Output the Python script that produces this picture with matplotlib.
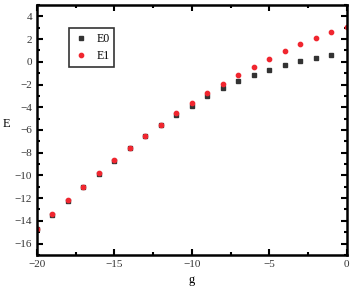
import matplotlib
matplotlib.use("Agg")
import matplotlib.pyplot as plt
from matplotlib.ticker import MultipleLocator

g = [-20, -19, -18, -17, -16, -15, -14, -13, -12, -11, -10, -9, -8, -7, -6, -5, -4, -3, -2, -1]
E0 = [-14.75, -13.45, -12.22, -11.02, -9.85, -8.7, -7.62, -6.53, -5.57, -4.69,
      -3.87, -3.04, -2.33, -1.69, -1.16, -0.69, -0.28, 0.08, 0.34, 0.6]
g1 = [-20, -19, -18, -17, -16, -15, -14, -13, -12, -11, -10, -9, -8, -7, -6, -5, -4, -3, -2, -1, 0]
E1 = [-14.74, -13.44, -12.2, -11.0, -9.83, -8.68, -7.6, -6.51, -5.54, -4.54,
      -3.63, -2.75, -1.92, -1.16, -0.43, 0.28, 0.93, 1.55, 2.1, 2.63, 3.1]

plt.rcParams['font.family'] = ['Liberation Serif', 'DejaVu Serif']

fig = plt.figure(figsize=(3.55, 2.95), dpi=100)
ax = fig.add_axes([0.104, 0.136, 0.873, 0.847])

ax.plot(g, E0, linestyle='none', marker='s', markersize=2.6, color='#333333', label='E0')
ax.plot(g1, E1, linestyle='none', marker='o', markersize=3.1, color='#f0262f', label='E1')

ax.set_xlim(-20, 0)
ax.set_ylim(-17, 5)
ax.xaxis.set_major_locator(MultipleLocator(5))
ax.xaxis.set_minor_locator(MultipleLocator(2.5))
ax.yaxis.set_major_locator(MultipleLocator(2))
ax.yaxis.set_minor_locator(MultipleLocator(1))
ax.tick_params(which='both', direction='in', top=True, right=True, width=1.5, labelsize=8, labelcolor='#333333')
ax.tick_params(which='major', length=4)
ax.tick_params(which='minor', length=2)
for s in ax.spines.values():
    s.set_linewidth(1.8)

ax.set_xlabel('g', fontsize=9)
ax.set_ylabel('E', fontsize=9, rotation=0, labelpad=6)

leg = ax.legend(loc='upper left', bbox_to_anchor=(0.085, 0.93), fontsize=8.5, frameon=True,
                fancybox=False, edgecolor='black', handletextpad=0.7, borderpad=0.4,
                handlelength=1.2, labelspacing=0.45)
leg.get_frame().set_linewidth(1.2)

fig.savefig('out.png', dpi=100)
